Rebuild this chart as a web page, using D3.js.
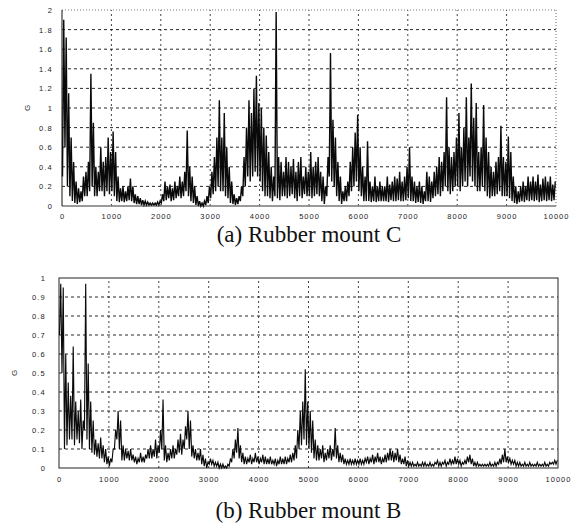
<!DOCTYPE html>
<html><head><meta charset="utf-8">
<script src="https://cdn.jsdelivr.net/npm/d3@7"></script>
<style>body{margin:0;background:#fff}svg{display:block}</style>
</head><body><svg id="c" width="582" height="525"></svg>
<script>
// ---- DATA ----
const xTicks = [0,1000,2000,3000,4000,5000,6000,7000,8000,9000,10000];
const yTicksA = [0,0.2,0.4,0.6,0.8,1,1.2,1.4,1.6,1.8,2];
const yTicksB = [0,0.1,0.2,0.3,0.4,0.5,0.6,0.7,0.8,0.9,1];
const binStep = 50; // time units per bin
// Rubber mount C: peak and floor of G in each 50-unit bin
const hiC = [
1.9,1.72,1.15,0.7,0.45,0.25,0.18,0.15,0.3,0.35,
0.45,1.35,0.85,0.4,0.35,0.6,0.45,0.5,0.7,0.55,
0.76,0.55,0.3,0.18,0.2,0.15,0.2,0.28,0.2,0.12,
0.1,0.08,0.06,0.05,0.04,0.03,0.03,0.03,0.04,0.05,
0.12,0.25,0.2,0.22,0.18,0.25,0.2,0.3,0.25,0.35,
0.77,0.4,0.3,0.2,0.1,0.05,0.03,0.05,0.1,0.2,
0.35,0.5,0.7,1.08,0.7,0.95,0.6,0.4,0.25,0.12,
0.08,0.1,0.2,0.5,0.8,1.08,0.95,1.2,1.33,1.05,
1.0,0.8,0.72,0.55,0.4,0.3,1.98,0.5,0.45,0.35,
0.5,0.45,0.4,0.48,0.35,0.45,0.5,0.3,0.4,0.35,
0.55,0.4,0.45,0.5,0.35,0.3,0.2,0.5,1.56,0.88,
0.7,0.45,0.3,0.15,0.2,0.25,0.45,0.6,0.75,0.93,
0.6,0.4,0.3,0.66,0.25,0.2,0.3,0.2,0.25,0.2,
0.2,0.3,0.22,0.25,0.3,0.28,0.35,0.25,0.3,0.4,
0.6,0.3,0.25,0.2,0.25,0.2,0.15,0.35,0.3,0.25,
0.35,0.4,0.5,0.45,0.55,1.11,0.6,0.5,0.55,0.7,
0.95,0.6,0.8,1.11,0.7,1.25,0.9,1.05,0.55,0.6,
1.03,0.7,0.55,0.4,0.35,0.45,0.5,0.82,0.5,0.45,
0.71,0.55,0.3,0.2,0.15,0.2,0.25,0.2,0.3,0.25,
0.3,0.25,0.32,0.22,0.28,0.3,0.25,0.3,0.22,0.25];
const loC = [
0.3,0.6,0.2,0.1,0.05,0.03,0.02,0.04,0.05,0.1,
0.1,0.15,0.2,0.1,0.1,0.15,0.15,0.1,0.15,0.12,
0.15,0.1,0.05,0.04,0.05,0.04,0.05,0.06,0.05,0.03,
0.02,0.02,0.01,0.01,0.01,0.01,0.01,0.01,0.01,0.01,
0.03,0.05,0.06,0.08,0.05,0.06,0.08,0.1,0.08,0.1,
0.15,0.1,0.05,0.03,0.01,0.0,0.0,0.0,0.01,0.03,
0.08,0.12,0.15,0.2,0.15,0.15,0.1,0.08,0.03,0.02,
0.01,0.02,0.05,0.1,0.2,0.3,0.25,0.3,0.35,0.3,
0.25,0.15,0.1,0.1,0.08,0.05,0.1,0.08,0.06,0.1,
0.1,0.08,0.1,0.12,0.08,0.05,0.1,0.08,0.12,0.1,
0.1,0.08,0.1,0.12,0.1,0.05,0.02,0.1,0.3,0.25,
0.2,0.1,0.05,0.02,0.05,0.05,0.1,0.15,0.2,0.25,
0.15,0.1,0.05,0.05,0.05,0.04,0.05,0.04,0.05,0.05,
0.05,0.05,0.04,0.06,0.05,0.05,0.06,0.05,0.05,0.06,
0.08,0.05,0.05,0.03,0.04,0.03,0.02,0.05,0.05,0.04,
0.08,0.1,0.12,0.1,0.15,0.2,0.15,0.12,0.15,0.2,
0.2,0.15,0.2,0.25,0.2,0.3,0.25,0.2,0.15,0.15,
0.2,0.15,0.1,0.08,0.1,0.1,0.12,0.15,0.1,0.1,
0.1,0.08,0.05,0.03,0.02,0.04,0.05,0.04,0.06,0.05,
0.06,0.05,0.06,0.04,0.05,0.06,0.05,0.06,0.05,0.06];
// Rubber mount B
const hiB = [
0.97,0.95,0.6,0.45,0.38,0.64,0.35,0.3,0.36,0.25,
0.97,0.55,0.35,0.25,0.15,0.13,0.16,0.12,0.1,0.06,
0.05,0.1,0.2,0.3,0.25,0.12,0.1,0.09,0.1,0.07,
0.06,0.05,0.08,0.06,0.07,0.1,0.12,0.1,0.15,0.12,
0.2,0.36,0.12,0.08,0.1,0.12,0.1,0.15,0.18,0.15,
0.22,0.3,0.25,0.12,0.1,0.08,0.1,0.07,0.05,0.03,
0.05,0.04,0.03,0.03,0.02,0.02,0.01,0.02,0.05,0.1,
0.15,0.21,0.12,0.08,0.06,0.05,0.07,0.05,0.08,0.06,
0.05,0.07,0.06,0.05,0.06,0.04,0.05,0.04,0.06,0.05,
0.06,0.05,0.07,0.08,0.12,0.2,0.3,0.35,0.52,0.35,
0.3,0.25,0.15,0.12,0.1,0.12,0.08,0.1,0.12,0.1,
0.21,0.12,0.08,0.07,0.05,0.04,0.05,0.04,0.05,0.04,
0.05,0.04,0.05,0.06,0.05,0.07,0.06,0.08,0.06,0.05,
0.07,0.08,0.1,0.09,0.08,0.1,0.07,0.05,0.06,0.04,
0.03,0.03,0.02,0.03,0.02,0.03,0.03,0.02,0.03,0.02,
0.03,0.04,0.03,0.03,0.04,0.03,0.05,0.04,0.06,0.05,
0.04,0.03,0.04,0.06,0.07,0.05,0.03,0.03,0.02,0.02,
0.02,0.02,0.03,0.02,0.03,0.03,0.05,0.07,0.1,0.06,
0.05,0.04,0.04,0.03,0.03,0.02,0.03,0.02,0.03,0.02,
0.02,0.03,0.02,0.02,0.03,0.02,0.03,0.03,0.04,0.04];
const loB = [
0.7,0.5,0.1,0.12,0.15,0.15,0.12,0.15,0.13,0.1,
0.2,0.15,0.1,0.08,0.07,0.06,0.05,0.05,0.03,0.02,
0.01,0.03,0.1,0.15,0.1,0.04,0.04,0.05,0.04,0.04,
0.03,0.02,0.03,0.03,0.03,0.05,0.05,0.05,0.06,0.05,
0.08,0.1,0.04,0.03,0.04,0.05,0.05,0.07,0.08,0.07,
0.1,0.15,0.1,0.06,0.05,0.04,0.04,0.02,0.01,0.0,
0.02,0.02,0.01,0.01,0.0,0.0,0.0,0.0,0.01,0.03,
0.05,0.08,0.05,0.03,0.02,0.02,0.03,0.02,0.03,0.03,
0.02,0.03,0.02,0.02,0.02,0.02,0.02,0.01,0.02,0.02,
0.02,0.02,0.03,0.03,0.04,0.05,0.1,0.12,0.15,0.12,
0.1,0.08,0.05,0.04,0.04,0.05,0.03,0.04,0.05,0.04,
0.06,0.05,0.03,0.03,0.02,0.02,0.02,0.02,0.02,0.02,
0.02,0.02,0.02,0.03,0.02,0.03,0.02,0.03,0.03,0.02,
0.03,0.03,0.04,0.04,0.03,0.04,0.03,0.02,0.02,0.01,
0.01,0.01,0.01,0.01,0.01,0.01,0.01,0.01,0.01,0.01,
0.01,0.02,0.01,0.01,0.02,0.01,0.02,0.02,0.02,0.02,
0.02,0.01,0.02,0.02,0.03,0.02,0.01,0.01,0.01,0.01,
0.01,0.01,0.01,0.01,0.01,0.01,0.02,0.02,0.03,0.03,
0.03,0.02,0.02,0.01,0.01,0.01,0.01,0.01,0.01,0.01,
0.01,0.01,0.01,0.01,0.01,0.01,0.01,0.02,0.02,0.02];
const captions = ["(a) Rubber mount C", "(b) Rubber mount B"];
const yTitle = "G";

// ---- DRAW ----
const svg = d3.select("#c");
const panels = [
  {hi:hiC, lo:loC, yTicks:yTicksA, ydom:[0,2], x0:62, x1:556, y0:206, y1:10, sw:1.4,
   fmt:d=>d===0?"0":(d%1===0?String(d):d.toFixed(1)), labX:53, xLabY:219, titleX:27, titleY:108,
   cap:captions[0], capY:242, solidFrame:false},
  {hi:hiB, lo:loB, yTicks:yTicksB, ydom:[0,1], x0:59, x1:558, y0:468, y1:278, sw:1.15,
   fmt:d=>d===0?"0":(d===1?"1":d.toFixed(1)), labX:46, xLabY:482, titleX:14, titleY:373,
   cap:captions[1], capY:518, solidFrame:true}
];

panels.forEach(p=>{
  const x = d3.scaleLinear().domain([0,10000]).range([p.x0,p.x1]);
  const y = d3.scaleLinear().domain(p.ydom).range([p.y0,p.y1]);
  const g = svg.append("g");
  const top = p.yTicks[p.yTicks.length-1];
  // horizontal grid
  g.selectAll("line.h").data(p.yTicks.filter(d=>d>0 && d<top)).join("line")
    .attr("x1",p.x0).attr("x2",p.x1).attr("y1",d=>y(d)).attr("y2",d=>y(d))
    .attr("stroke","#111").attr("stroke-width",0.9).attr("stroke-dasharray","3,3");
  // vertical grid
  g.selectAll("line.v").data(xTicks.filter(d=>d>0 && d<10000)).join("line")
    .attr("x1",d=>x(d)).attr("x2",d=>x(d)).attr("y1",p.y0).attr("y2",p.y1)
    .attr("stroke","#111").attr("stroke-width",0.8).attr("stroke-dasharray","2,3");
  // frame
  if(p.solidFrame){
    g.append("rect").attr("x",p.x0).attr("y",p.y1).attr("width",p.x1-p.x0).attr("height",p.y0-p.y1)
      .attr("fill","none").attr("stroke","#222").attr("stroke-width",1);
  } else {
    g.append("line").attr("x1",p.x0).attr("x2",p.x1).attr("y1",y(top)).attr("y2",y(top))
      .attr("stroke","#555").attr("stroke-width",0.8).attr("stroke-dasharray","1,2");
    g.append("line").attr("x1",p.x1).attr("x2",p.x1).attr("y1",p.y0).attr("y2",p.y1)
      .attr("stroke","#444").attr("stroke-width",0.8).attr("stroke-dasharray","1,2");
    g.append("line").attr("x1",p.x0).attr("x2",p.x1).attr("y1",p.y0).attr("y2",p.y0)
      .attr("stroke","#777").attr("stroke-width",1.6);
    g.append("line").attr("x1",p.x0).attr("x2",p.x0).attr("y1",p.y0).attr("y2",p.y1)
      .attr("stroke","#111").attr("stroke-width",1);
  }
  // signal: alternate floor and peak within each bin
  const pts = [];
  p.hi.forEach((h,i)=>{
    pts.push([i*binStep+10, p.lo[i]]);
    pts.push([i*binStep+35, h]);
  });
  const line = d3.line().x(d=>x(d[0])).y(d=>y(d[1]));
  g.append("path").datum(pts).attr("d",line).attr("fill","none")
    .attr("stroke","#0a0a0a").attr("stroke-width",p.sw).attr("stroke-linejoin","miter");
  // axes
  const ax = d3.axisBottom(x).tickValues(xTicks).tickSize(0).tickPadding(0).tickFormat(d3.format("d"));
  const axg = g.append("g").attr("transform",`translate(0,${p.xLabY})`).call(ax);
  axg.select(".domain").remove();
  axg.selectAll("text").attr("font-family","Liberation Sans, Arial, sans-serif").attr("font-size",7.5)
    .attr("letter-spacing",1).attr("fill","#222").attr("dy","0");
  const ay = d3.axisLeft(y).tickValues(p.yTicks).tickSize(0).tickPadding(0).tickFormat(p.fmt);
  const ayg = g.append("g").attr("transform",`translate(${p.labX},0)`).call(ay);
  ayg.select(".domain").remove();
  ayg.selectAll("text").attr("font-family","Liberation Sans, Arial, sans-serif").attr("font-size",7.5)
    .attr("letter-spacing",1.2).attr("fill","#222");
  // y title
  g.append("text").attr("transform",`translate(${p.titleX},${p.titleY}) rotate(-90)`)
    .attr("text-anchor","middle").attr("dy","0.35em")
    .attr("font-family","Liberation Sans, Arial, sans-serif").attr("font-size",8).attr("fill","#222").text(yTitle);
  // caption
  g.append("text").attr("x",(p.x0+p.x1)/2).attr("y",p.capY).attr("text-anchor","middle")
    .attr("font-family","Liberation Serif, Times New Roman, serif").attr("font-size",23).attr("fill","#111").text(p.cap);
});
</script></body></html>
